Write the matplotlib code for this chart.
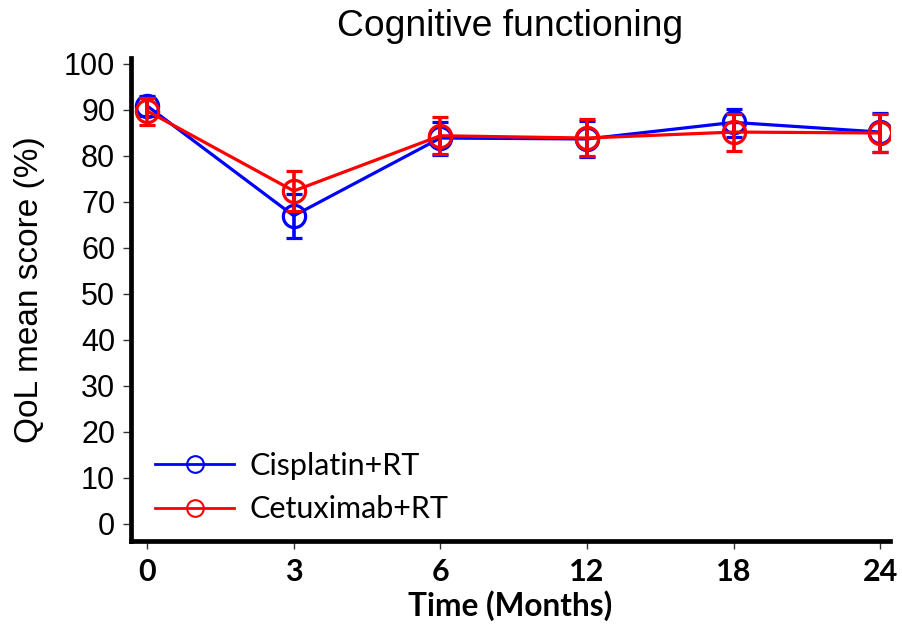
import numpy as np
import matplotlib
matplotlib.use("Agg")
import matplotlib.pyplot as plt
from matplotlib.lines import Line2D

plt.rcParams['font.family'] = ['Liberation Sans', 'DejaVu Sans']

months = ["0", "3", "6", "12", "18", "24"]

cis_mean = [90.9, 67.0, 83.9, 83.7, 87.3, 85.2]
cis_lo = [88.8, 62.2, 80.2, 79.8, 84.2, 80.9]
cis_hi = [93.0, 71.8, 87.4, 87.6, 90.2, 89.3]

cet_mean = [89.8, 72.4, 84.4, 83.9, 85.2, 85.0]
cet_lo = [86.8, 68.0, 80.4, 80.0, 81.1, 80.8]
cet_hi = [92.6, 76.7, 88.4, 88.0, 89.2, 89.1]

x = np.arange(len(months))

fig = plt.figure(figsize=(9.03, 6.31), dpi=100)
ax = fig.add_axes([130.5/903, 1-541/631, 760/903, 483/631])

def draw(mean, lo, hi, color, z):
    mean = np.array(mean)
    err = [mean - np.array(lo), np.array(hi) - mean]
    ax.errorbar(x, mean, yerr=err, color=color, lw=2.3, marker='o', ms=16,
                mfc='none', mec=color, mew=2.3, capsize=6, capthick=2.6,
                elinewidth=2.6, zorder=z)

draw(cis_mean, cis_lo, cis_hi, '#0000ff', 3)
draw(cet_mean, cet_lo, cet_hi, '#ff0000', 4)

ax.set_xlim(-0.113, 5.07)
ax.set_ylim(-3.7, 101.3)
ax.set_xticks(x)
ax.set_xticklabels(months, fontsize=22, fontweight='bold', family='Lato')
ax.set_yticks(range(0, 101, 10))
ax.tick_params(axis='y', labelsize=22, length=6, width=1.0, pad=5, color='#333333')
ax.tick_params(axis='x', length=6, width=1.0, pad=6, color='#333333')

for s in ['top', 'right']:
    ax.spines[s].set_visible(False)
for s in ['left', 'bottom']:
    ax.spines[s].set_linewidth(3.4)

ax.set_title("Cognitive functioning", fontsize=26.8, pad=16)
ax.set_xlabel("Time (Months)", fontsize=22.8, fontweight='bold', family='Lato', labelpad=3)
ax.set_ylabel("QoL mean score (%)", fontsize=24)
ax.yaxis.set_label_coords(-0.112, 0.52)

handles = [
    Line2D([], [], color='#0000ff', lw=2, marker='o', ms=12, mfc='none', mew=1.5),
    Line2D([], [], color='#ff0000', lw=2, marker='o', ms=12, mfc='none', mew=1.5),
]
ax.legend(handles, ["Cisplatin+RT", "Cetuximab+RT"], loc='lower left',
          frameon=False, prop={'family': 'Lato', 'size': 22}, handlelength=2.6,
          handletextpad=0.5, bbox_to_anchor=(0.0, -0.014), labelspacing=0.5,
          borderaxespad=0.4)

fig.savefig("out.png", dpi=100)
